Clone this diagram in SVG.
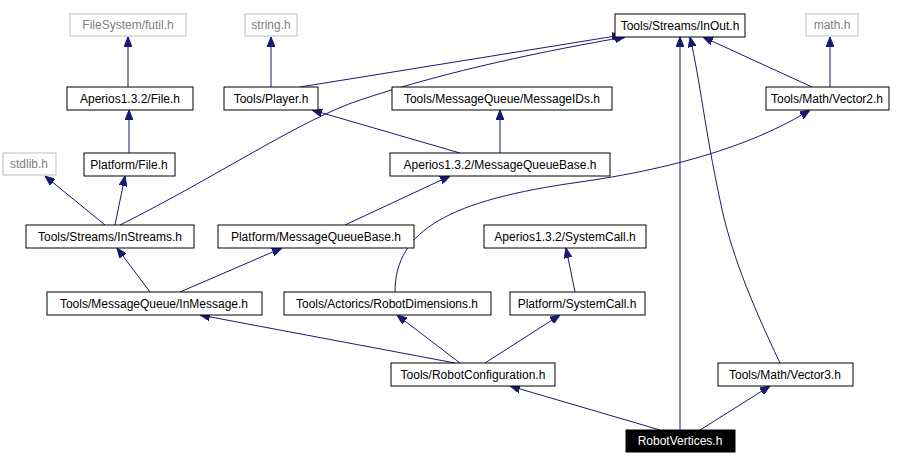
<svg xmlns="http://www.w3.org/2000/svg" width="905" height="471" viewBox="0 0 905 471">
<defs>
<marker id="a" markerWidth="10" markerHeight="8" refX="10" refY="4" orient="auto" markerUnits="userSpaceOnUse"><path d="M0,0 L10,4 L0,8 Z" fill="#191970" stroke="#191970"/></marker>
<style>
rect{fill:#fff;stroke:#000;stroke-width:1}
.g rect{stroke:#bfbfbf}
text{font-family:"Liberation Sans",Arial,sans-serif;font-size:12px;text-anchor:middle;fill:#000}
.g text{fill:#808080}
#edges path{fill:none;stroke:#191970;stroke-width:1;marker-end:url(#a)}
</style>
</defs>
<rect x="0" y="0" width="905" height="471" style="stroke:none"/>
<g id="edges">
<path d="M128,87 L128,37"/>
<path d="M129,153 L129,110"/>
<path d="M105,225 L45,176"/>
<path d="M115,225 L125,176"/>
<path d="M120,225 C220,175 300,120 360,100 C450,70 550,50 625,37"/>
<path d="M271,87 L271,37"/>
<path d="M300,87 L622,35"/>
<path d="M460,153 L312,110"/>
<path d="M500,153 L500,110"/>
<path d="M345,225 L450,176"/>
<path d="M150,292 L117,248"/>
<path d="M180,292 L282,248"/>
<path d="M395,292 C395,230 450,200 580,182 C700,165 770,135 810,110"/>
<path d="M812,87 L703,37"/>
<path d="M830,87 L830,37"/>
<path d="M575,292 L566,248"/>
<path d="M455,363 L200,315"/>
<path d="M460,363 L397,315"/>
<path d="M485,363 L560,315"/>
<path d="M780,363 C750,300 730,250 720,200 C705,130 700,80 690,37"/>
<path d="M660,430 L510,386"/>
<path d="M680,430 L680,37"/>
<path d="M700,430 L770,386"/>
</g>
<g id="n1" class="g"><rect x="70" y="14" width="116" height="22"/><text x="128" y="29">FileSystem/futil.h</text></g>
<g id="n2" class="g"><rect x="245" y="14" width="52" height="22"/><text x="271" y="29">string.h</text></g>
<g id="n3"><rect x="615" y="14" width="130" height="23"/><text x="680" y="30">Tools/Streams/InOut.h</text></g>
<g id="n4" class="g"><rect x="806" y="14" width="52" height="22"/><text x="832" y="29">math.h</text></g>
<g id="n5"><rect x="67" y="87" width="126" height="23"/><text x="130" y="103">Aperios1.3.2/File.h</text></g>
<g id="n6"><rect x="224" y="87" width="94" height="23"/><text x="271" y="103">Tools/Player.h</text></g>
<g id="n7"><rect x="392" y="87" width="220" height="23"/><text x="502" y="103">Tools/MessageQueue/MessageIDs.h</text></g>
<g id="n8"><rect x="766" y="87" width="123" height="23"/><text x="827" y="103">Tools/Math/Vector2.h</text></g>
<g id="n9" class="g"><rect x="3" y="153" width="53" height="22"/><text x="29" y="168">stdlib.h</text></g>
<g id="n10"><rect x="84" y="153" width="91" height="23"/><text x="129" y="169">Platform/File.h</text></g>
<g id="n11"><rect x="390" y="153" width="220" height="23"/><text x="500" y="169">Aperios1.3.2/MessageQueueBase.h</text></g>
<g id="n12"><rect x="26" y="225" width="168" height="23"/><text x="110" y="241">Tools/Streams/InStreams.h</text></g>
<g id="n13"><rect x="218" y="225" width="196" height="23"/><text x="316" y="241">Platform/MessageQueueBase.h</text></g>
<g id="n14"><rect x="484" y="225" width="162" height="23"/><text x="565" y="241">Aperios1.3.2/SystemCall.h</text></g>
<g id="n15"><rect x="47" y="292" width="215" height="23"/><text x="154" y="308">Tools/MessageQueue/InMessage.h</text></g>
<g id="n16"><rect x="284" y="292" width="207" height="23"/><text x="387" y="308">Tools/Actorics/RobotDimensions.h</text></g>
<g id="n17"><rect x="510" y="292" width="135" height="23"/><text x="577" y="308">Platform/SystemCall.h</text></g>
<g id="n18"><rect x="391" y="363" width="164" height="23"/><text x="473" y="379">Tools/RobotConfiguration.h</text></g>
<g id="n19"><rect x="718" y="363" width="135" height="23"/><text x="785" y="379">Tools/Math/Vector3.h</text></g>
<g id="n20"><rect x="626" y="430" width="109" height="22" style="fill:#000"/><text x="680" y="445" style="fill:#fff">RobotVertices.h</text></g>
</svg>
